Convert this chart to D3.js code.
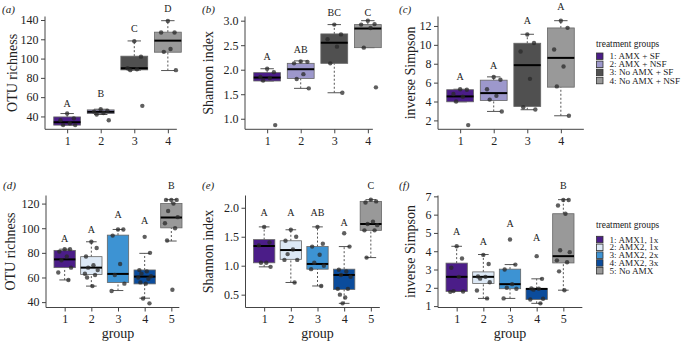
<!DOCTYPE html>
<html>
<head>
<meta charset="utf-8">
<script src="https://cdn.jsdelivr.net/npm/d3@7"></script>
<style>
  body { margin: 0; background: #fff; }
  svg text { font-family: "Liberation Serif", "Times New Roman", Times, Tinos, serif; fill: #222; }
</style>
</head>
<body>
<svg id="fig" width="685" height="342"></svg>
<script>
// box stats are [lower whisker, q1, median, q3, upper whisker]
const groupsTop = ["1", "2", "3", "4"];
const groupsBot = ["1", "2", "3", "4", "5"];

const otuTopStats = [[31, 31, 34, 39.5, 43], [42, 43, 44.8, 46.8, 47.5], [88, 88.3, 90, 102.5, 118.3], [87.6, 106.6, 118.6, 127.4, 139.3]];
const otuTopPoints = [[43, 38, 36, 33, 31, 31], [47.5, 46, 45, 43.5, 42, 36], [118, 102, 90, 89, 88, 51], [139, 127, 127, 110, 107, 88]];

const shanTopStats = [[1.77, 1.77, 1.84, 1.94, 2.02], [1.62, 1.82, 2.01, 2.13, 2.18], [1.53, 2.13, 2.55, 2.73, 2.92], [2.45, 2.45, 2.84, 2.92, 3.0]];
const shanTopPoints = [[2.02, 1.95, 1.85, 1.83, 1.78, 0.87], [2.17, 2.16, 2.13, 1.91, 1.81, 1.62], [2.92, 2.72, 2.62, 2.47, 2.13, 1.53], [3.0, 2.93, 2.92, 2.85, 2.45, 1.64]];

const simpTopStats = [[3.97, 3.97, 4.54, 5.25, 5.3], [2.95, 4.1, 4.89, 6.26, 6.61], [3.13, 3.48, 7.85, 10.17, 11.12], [2.49, 5.52, 8.62, 11.79, 12.56]];
const simpTopPoints = [[5.3, 5.25, 4.8, 4.5, 4.0, 1.5], [6.6, 6.3, 5.3, 4.6, 4.2, 2.95], [11.1, 10.2, 9.3, 6.4, 3.4, 3.15], [12.56, 11.8, 9.5, 7.7, 5.6, 2.5]];

const otuBotStats = [[58, 68, 74.7, 82, 83], [53, 62.4, 68, 76.9, 89], [49.4, 55.9, 62.9, 94.4, 99], [43.2, 54.8, 60.7, 66.1, 79.6], [89.6, 100.3, 108.7, 120, 123.2]];
const otuBotPoints = [[83, 83, 81, 77, 74, 68, 64, 58], [89, 84, 77, 70, 68, 66, 63, 62, 60, 53], [99, 99, 94, 71, 62, 55, 49],
  [93, 80, 66, 65, 63, 61, 60, 59, 56, 55, 43, 39], [123, 123, 123, 120, 114, 109, 104, 100, 90, 50]];

const shanBotStats = [[0.98, 1.05, 1.34, 1.45, 1.67], [0.71, 1.11, 1.27, 1.43, 1.62], [0.65, 0.94, 1.03, 1.33, 1.67], [0.35, 0.59, 0.84, 0.94, 1.33], [1.14, 1.61, 1.72, 2.11, 2.14]];
const shanBotPoints = [[1.67, 1.40, 1.35, 1.05, 1.05, 0.98], [1.62, 1.50, 1.43, 1.28, 1.2, 1.1, 1.1, 0.71], [1.67, 1.38, 1.33, 1.19, 1.05, 1.0, 0.94, 0.65],
  [1.56, 1.33, 0.93, 0.9, 0.84, 0.81, 0.6, 0.6, 0.5, 0.45, 0.35], [2.14, 2.11, 2.09, 1.76, 1.72, 1.7, 1.61, 1.61, 1.14]];

const simpBotStats = [[1.8, 1.8, 2.6, 3.35, 4.27], [1.42, 2.24, 2.6, 2.87, 3.82], [1.42, 1.95, 2.2, 3.02, 3.27], [1.15, 1.36, 1.94, 1.96, 2.49], [1.87, 3.36, 3.73, 6.05, 6.82]];
const simpBotPoints = [[4.27, 3.6, 3.1, 2.6, 1.82, 1.8, 1.78], [3.8, 3.3, 2.62, 2.6, 2.5, 2.3, 1.85, 1.42], [4.64, 3.27, 3.0, 2.2, 2.0, 1.95, 1.42],
  [3.73, 2.49, 1.96, 1.95, 1.9, 1.4, 1.36, 1.15], [6.8, 6.8, 6.5, 6.05, 4.05, 3.95, 3.5, 3.4, 2.9, 1.87]];

// significance letters and the value they sit at
const lettersA = ["A", "B", "C", "D"],        letterYA = [53.1, 63.5, 130.7, 152.4];
const lettersB = ["A", "AB", "BC", "C"],      letterYB = [2.26, 2.42, 3.16, 3.16];
const lettersC = ["A", "A", "A", "A"],        letterYC = [6.6, 7.78, 12.53, 14.1];
const lettersD = ["A", "A", "A", "A", "B"],   letterYD = [92, 99.2, 111.4, 106.5, 134.8];
const lettersE = ["A", "A", "AB", "A", "C"],  letterYE = [1.91, 1.91, 1.91, 1.75, 2.39];
const lettersF = ["A", "A", "A", "A", "B"],   letterYF = [5.09, 4.55, 5.53, 4.76, 7.6];

const ticksOtuTop = [40, 60, 80, 100, 120, 140];
const ticksShanTop = [1.0, 1.5, 2.0, 2.5, 3.0];
const ticksSimpTop = [2, 4, 6, 8, 10, 12];
const ticksOtuBot = [40, 60, 80, 100, 120];
const ticksShanBot = [0.5, 1.0, 1.5, 2.0];
const ticksSimpBot = [1, 2, 3, 4, 5, 6, 7];

const colorsTop = ["#4b1d88", "#9d98cc", "#505050", "#999999"];
const colorsBot = ["#4b1d88", "#dde9f6", "#3d93d3", "#0b4c9c", "#999999"];
const legendTop = ["1: AMX + SF", "2: AMX + NSF", "3: No AMX + SF", "4: No AMX + NSF"];
const legendBot = ["1: AMX1, 1x", "2: AMX2, 1x", "3: AMX2, 2x", "4: AMX2, 3x", "5: No AMX"];

// horizontal spread of the dots inside a box (display only)
const JIT = [0, 0.2, -0.2, 0.08, -0.12, 0.24, -0.24, 0.14, -0.16, 0.04, -0.06, 0.18];

const FONT = '"Liberation Serif", "Times New Roman", Times, Tinos, serif';
const svg = d3.select("#fig");

const panels = [
  {label: "(a)", lx: 2,   ly: 13,  left: 45,  top: 16.5, bottom: 129.3, width: 145, axEnd: 9,
   stats: otuTopStats, pts: otuTopPoints, letters: lettersA, ly2: letterYA, ticks: ticksOtuTop, fmt: d3.format("d"),
   colors: colorsTop, groups: groupsTop, title: "OTU richness", tx: 12},
  {label: "(b)", lx: 202, ly: 13,  left: 245, top: 16.5, bottom: 129.3, width: 145, axEnd: 5,
   stats: shanTopStats, pts: shanTopPoints, letters: lettersB, ly2: letterYB, ticks: ticksShanTop, fmt: d3.format(".1f"),
   colors: colorsTop, groups: groupsTop, title: "Shannon index", tx: 208},
  {label: "(c)", lx: 399, ly: 13,  left: 438, top: 16.5, bottom: 129.3, width: 145, axEnd: 23,
   stats: simpTopStats, pts: simpTopPoints, letters: lettersC, ly2: letterYC, ticks: ticksSimpTop, fmt: d3.format("d"),
   colors: colorsTop, groups: groupsTop, title: "inverse Simpson", tx: 410},
  {label: "(d)", lx: 3,   ly: 189, left: 46,  top: 195.5, bottom: 307.5, width: 144, axEnd: 8,
   stats: otuBotStats, pts: otuBotPoints, letters: lettersD, ly2: letterYD, ticks: ticksOtuBot, fmt: d3.format("d"),
   colors: colorsBot, groups: groupsBot, title: "OTU richness", tx: 10, xlab: true},
  {label: "(e)", lx: 202, ly: 189, left: 245.5, top: 195.5, bottom: 307.5, width: 144, axEnd: 9,
   stats: shanBotStats, pts: shanBotPoints, letters: lettersE, ly2: letterYE, ticks: ticksShanBot, fmt: d3.format(".1f"),
   colors: colorsBot, groups: groupsBot, title: "Shannon index", tx: 208, xlab: true},
  {label: "(f)", lx: 399, ly: 189, left: 438, top: 195.5, bottom: 307.5, width: 144, axEnd: 19,
   stats: simpBotStats, pts: simpBotPoints, letters: lettersF, ly2: letterYF, ticks: ticksSimpBot, fmt: d3.format("d"),
   colors: colorsBot, groups: groupsBot, title: "inverse Simpson", tx: 410, xlab: true}
];

panels.forEach(drawPanel);
drawLegend(legendTop, colorsTop, 596, 44, 56, 8.1);
drawLegend(legendBot, colorsBot, 596, 225, 239.3, 7.8);

function drawPanel(p) {
  const n = p.stats.length;
  const x = d3.scaleLinear()
    .domain([0.5 - 0.04 * n, n + 0.5 + 0.04 * n])
    .range([p.left, p.left + p.width]);
  const all = p.stats.flat().concat(p.pts.flat());
  const [lo, hi] = d3.extent(all);
  const pad = (hi - lo) * 0.04;
  const y = d3.scaleLinear().domain([lo - pad, hi + pad]).range([p.bottom, p.top]);

  const g = svg.append("g");
  const boxes = p.stats.map((s, i) => ({i: i + 1, s: s, col: p.colors[i]}));
  const bw = 0.4; // half box width in group units

  // whiskers (dashed)
  g.selectAll(".wh").data(boxes).join("g").each(function(d) {
    const s = d.s, gg = d3.select(this);
    [[s[0], s[1]], [s[3], s[4]]].forEach(seg => {
      if (seg[0] === seg[1]) return;
      gg.append("line")
        .attr("x1", x(d.i)).attr("x2", x(d.i))
        .attr("y1", y(seg[0])).attr("y2", y(seg[1]))
        .attr("stroke", "#555").attr("stroke-width", 1)
        .attr("stroke-dasharray", "2,2");
    });
    [s[0], s[4]].forEach(v => {
      gg.append("line")
        .attr("x1", x(d.i - bw / 2)).attr("x2", x(d.i + bw / 2))
        .attr("y1", y(v)).attr("y2", y(v))
        .attr("stroke", "#555").attr("stroke-width", 1);
    });
  });

  // boxes
  g.selectAll(".box").data(boxes).join("rect")
    .attr("x", d => x(d.i - bw))
    .attr("width", d => x(d.i + bw) - x(d.i - bw))
    .attr("y", d => y(d.s[3]))
    .attr("height", d => y(d.s[1]) - y(d.s[3]))
    .attr("fill", d => d.col)
    .attr("stroke", "#666").attr("stroke-width", 0.8);

  // medians
  g.selectAll(".med").data(boxes).join("line")
    .attr("x1", d => x(d.i - bw)).attr("x2", d => x(d.i + bw))
    .attr("y1", d => y(d.s[2])).attr("y2", d => y(d.s[2]))
    .attr("stroke", "#000").attr("stroke-width", 2);

  // dots
  const dots = [];
  p.pts.forEach((arr, gi) => arr.forEach((v, k) => dots.push({gx: gi + 1 + JIT[k % JIT.length], v: v})));
  g.selectAll(".pt").data(dots).join("circle")
    .attr("cx", d => x(d.gx))
    .attr("cy", d => y(d.v))
    .attr("r", 2.2)
    .attr("fill", "#2a2a2a").attr("fill-opacity", 0.75);

  // significance letters
  g.selectAll(".let").data(p.letters).join("text")
    .attr("x", (d, i) => x(i + 1))
    .attr("y", (d, i) => y(p.ly2[i]))
    .attr("dy", "0.35em")
    .attr("text-anchor", "middle")
    .attr("font-size", 10)
    .text(d => d);

  // axes
  const ya = g.append("g")
    .attr("transform", `translate(${p.left},0)`)
    .call(d3.axisLeft(y).tickValues(p.ticks).tickFormat(p.fmt).tickSize(4).tickSizeOuter(0).tickPadding(2.5));
  const xa = g.append("g")
    .attr("transform", `translate(0,${p.bottom})`)
    .call(d3.axisBottom(x).tickValues(d3.range(1, n + 1)).tickFormat((d, i) => p.groups[i]).tickSize(4).tickPadding(3));
  xa.select(".domain").remove();
  ya.select(".domain").remove();
  [ya, xa].forEach(a => {
    a.attr("font-family", FONT);
    a.selectAll("text").attr("font-size", 12).attr("fill", "#222");
    a.selectAll("line").attr("stroke", "#444");
  });
  g.append("path")
    .attr("d", `M${p.left},${p.top}V${p.bottom}H${x(n) + p.axEnd}`)
    .attr("fill", "none").attr("stroke", "#444").attr("stroke-width", 1);

  // titles
  g.append("text")
    .attr("transform", `translate(${p.tx},${(p.top + p.bottom) / 2}) rotate(-90)`)
    .attr("dy", "0.35em")
    .attr("text-anchor", "middle")
    .attr("font-size", 14)
    .text(p.title);
  g.append("text")
    .attr("x", p.lx).attr("y", p.ly)
    .attr("font-size", 11).attr("font-style", "italic")
    .text(p.label);
  if (p.xlab) {
    g.append("text")
      .attr("x", (x(1) + x(n)) / 2).attr("y", 338)
      .attr("text-anchor", "middle")
      .attr("font-size", 14)
      .text("group");
  }
}

function drawLegend(labels, colors, x0, titleY, y0, step) {
  const g = svg.append("g");
  g.append("text")
    .attr("x", x0).attr("y", titleY).attr("dy", "0.35em")
    .attr("font-size", 9.4)
    .text("treatment groups");
  const rows = g.selectAll(".row").data(labels).join("g")
    .attr("transform", (d, i) => `translate(${x0},${y0 + i * step})`);
  rows.append("rect")
    .attr("x", 0.5).attr("y", -3)
    .attr("width", 6.5).attr("height", 6.5)
    .attr("fill", (d, i) => colors[i])
    .attr("stroke", "#333").attr("stroke-width", 0.8);
  rows.append("text")
    .attr("x", 13.5).attr("dy", "0.35em")
    .attr("font-size", 9.2)
    .text(d => d);
}
</script>
</body>
</html>
